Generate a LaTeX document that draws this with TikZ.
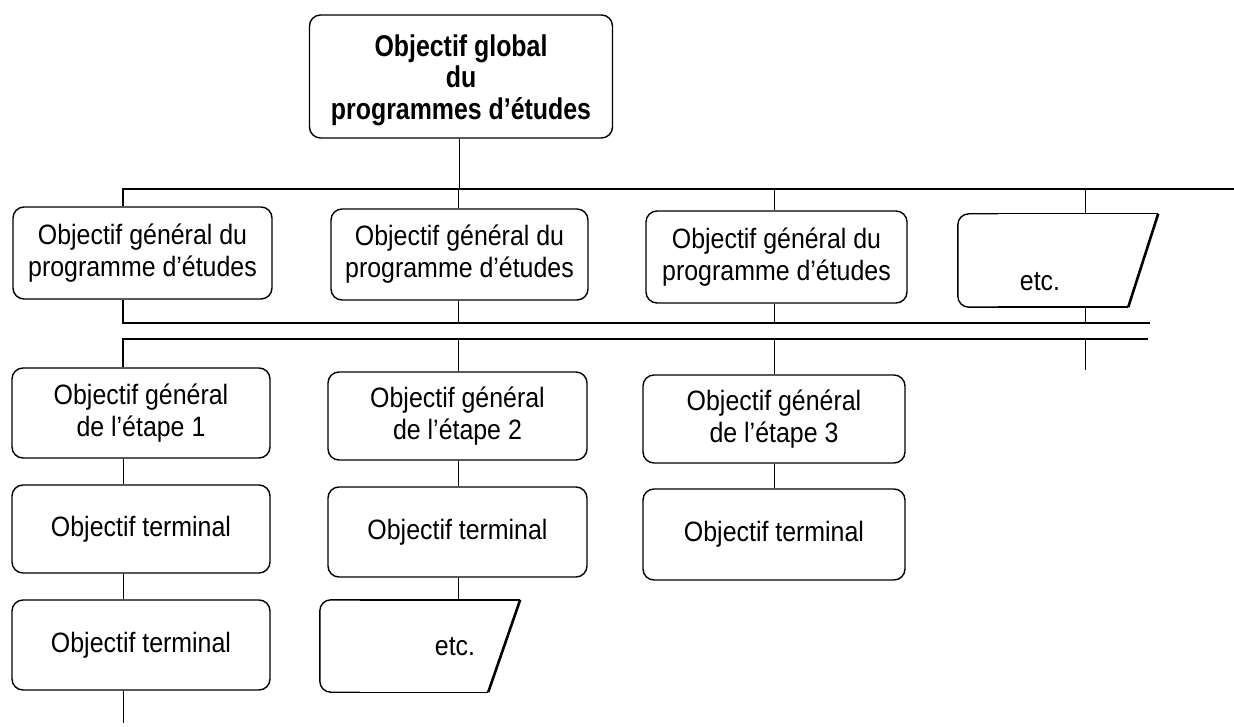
\documentclass[tikz,border=0pt]{standalone}
\usepackage{fontspec}
\setmainfont{Liberation Sans}
\newfontfamily\regf[FakeStretch=0.89]{Liberation Sans}
\newfontfamily\boldf[FakeStretch=0.83]{Liberation Sans Bold}
\begin{document}
\begin{tikzpicture}[x=1pt,y=-1pt,
  boxline/.style={line width=1.4pt},
  obox/.style={draw, boxline, rounded corners=11pt, inner sep=0pt, align=center,
    minimum width=258pt, minimum height=90pt, font=\regf\fontsize{28}{32}\selectfont},
  topbox/.style={obox, minimum width=303pt, minimum height=123pt,
    font=\boldf\fontsize{30}{31.5}\selectfont},
  etcframe/.style={inner sep=0pt, minimum height=92pt},
  etctxt/.style={inner sep=0pt, font=\regf\fontsize{28}{32}\selectfont},
  slant/.style={line width=2.6pt},
  link/.style={line width=1pt},
  bus/.style={line width=1.5pt}]
\useasboundingbox (0,0) rectangle (1234,727);

% columns and bus coordinates
\coordinate (c0) at (459,0);
\coordinate (c1) at (123,0);
\coordinate (c2) at (458,0);
\coordinate (c3) at (774,0);
\coordinate (c4) at (1085,0);
\coordinate (b0L) at (123,189);
\coordinate (b0R) at (1234,189);
\coordinate (b1L) at (123,323);
\coordinate (b1R) at (1150,323);
\coordinate (b2L) at (123,339);
\coordinate (b2R) at (1148,339);
\coordinate (endA) at (123,723);
\coordinate (endB) at (1085,370);

% nodes
\node[topbox] (top) at (461,76.5) {\raisebox{-5pt}[\height][\depth]{\begin{tabular}{@{}c@{}}Objectif global\\du\\programmes d’études\end{tabular}}};

\node[obox, minimum width=259pt, minimum height=92pt] (p1) at (142.5,253) {Objectif général du\\programme d’études};
\node[obox, minimum width=257pt, minimum height=91pt] (p2) at (459.5,254.5) {Objectif général du\\programme d’études};
\node[obox, minimum width=261pt, minimum height=92pt] (p3) at (776.5,257) {Objectif général du\\programme d’études};
\node[etcframe, minimum width=170pt, minimum height=93pt] (e1) at (1043,260.5) {};
\node[etctxt] (e1t) at ([xshift=-3pt,yshift=-21.5pt]e1.center) {etc.};

\node[obox] (g1) at (141,413) {Objectif général\\de l’étape 1};
\node[obox, minimum height=88pt] (t1a) at (141,529) {Objectif terminal};
\node[obox] (t1b) at (141,645) {Objectif terminal};

\node[obox, minimum width=259pt, minimum height=88pt] (g2) at (457.5,416) {Objectif général\\de l’étape 2};
\node[obox, minimum width=259pt] (t2) at (457.5,532) {Objectif terminal};
\node[etcframe, minimum width=168pt] (e2) at (404,646) {};
\node[etctxt] (e2t) at ([xshift=51pt,yshift=-1pt]e2.center) {etc.};

\node[obox, minimum width=262pt, minimum height=88pt] (g3) at (774,419) {Objectif général\\de l’étape 3};
\node[obox, minimum width=262pt, minimum height=91pt] (t3) at (774,534.5) {Objectif terminal};

% etc. outlines
\draw[boxline, rounded corners=11pt] ([xshift=40pt]e1.north west) -- (e1.north west) -- (e1.south west) -- ([xshift=40pt]e1.south west);
\draw[boxline] ([xshift=40pt]e1.north west) -- ([xshift=30pt]e1.north east);
\draw[slant] ([xshift=30pt]e1.north east) -- (e1.south east);
\draw[boxline] (e1.south east) -- ([xshift=40pt]e1.south west);

\draw[boxline, rounded corners=11pt] ([xshift=40pt]e2.north west) -- (e2.north west) -- (e2.south west) -- ([xshift=40pt]e2.south west);
\draw[boxline] ([xshift=40pt]e2.north west) -- ([xshift=32pt]e2.north east);
\draw[slant] ([xshift=32pt]e2.north east) -- (e2.south east);
\draw[boxline] (e2.south east) -- ([xshift=40pt]e2.south west);

% top bus
\draw[link] (top.south -| c0) -- (c0 |- b0L);
\draw[bus] (p1.north -| c1) |- (b0R);
\draw[link] (p2.north -| c2) -- (c2 |- b0L);
\draw[link] (p3.north -| c3) -- (c3 |- b0L);
\draw[link] (e1.north -| c4) -- (c4 |- b0L);

% first lower bus
\draw[bus] (p1.south -| c1) |- (b1R);
\draw[link] (p2.south -| c2) -- (c2 |- b1L);
\draw[link] (p3.south -| c3) -- (c3 |- b1L);
\draw[link] (e1.south -| c4) -- (c4 |- b1L);

% second lower bus
\draw[bus] (g1.north -| c1) |- (b2R);
\draw[link] (g2.north -| c2) -- (c2 |- b2L);
\draw[link] (g3.north -| c3) -- (c3 |- b2L);
\draw[link] (c4 |- b2L) -- (endB);

% columns
\draw[link] (g1.south -| c1) -- (t1a.north -| c1);
\draw[link] (t1a.south -| c1) -- (t1b.north -| c1);
\draw[link] (t1b.south -| c1) -- (endA);
\draw[link] (g2.south -| c2) -- (t2.north -| c2);
\draw[link] (t2.south -| c2) -- (e2.north -| c2);
\draw[link] (g3.south -| c3) -- (t3.north -| c3);
\end{tikzpicture}
\end{document}
